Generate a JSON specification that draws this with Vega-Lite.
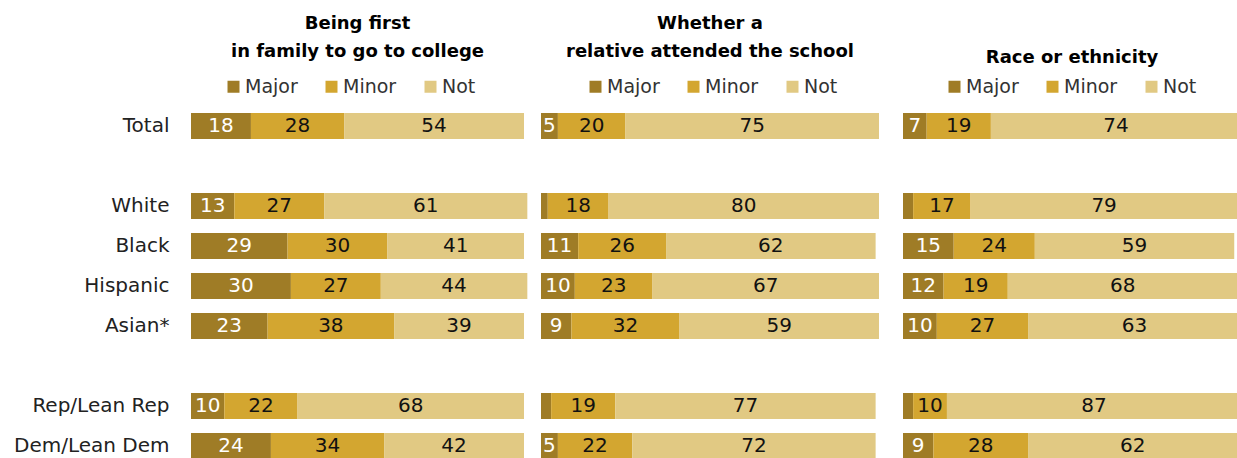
{
  "$schema": "https://vega.github.io/schema/vega-lite/v6.json",
  "padding": {"left": 13, "top": 15, "right": 0, "bottom": 0},
  "background": "white",
  "datasets": {
    "d": [
      {"q": "first", "group": "Total", "resp": "Major", "value": 18},
      {"q": "first", "group": "Total", "resp": "Minor", "value": 28},
      {"q": "first", "group": "Total", "resp": "Not", "value": 54},
      {"q": "first", "group": "White\u00a0", "resp": "Major", "value": 13},
      {"q": "first", "group": "White\u00a0", "resp": "Minor", "value": 27},
      {"q": "first", "group": "White\u00a0", "resp": "Not", "value": 61},
      {"q": "first", "group": "Black", "resp": "Major", "value": 29},
      {"q": "first", "group": "Black", "resp": "Minor", "value": 30},
      {"q": "first", "group": "Black", "resp": "Not", "value": 41},
      {"q": "first", "group": "Hispanic", "resp": "Major", "value": 30},
      {"q": "first", "group": "Hispanic", "resp": "Minor", "value": 27},
      {"q": "first", "group": "Hispanic", "resp": "Not", "value": 44},
      {"q": "first", "group": "Asian*", "resp": "Major", "value": 23},
      {"q": "first", "group": "Asian*", "resp": "Minor", "value": 38},
      {"q": "first", "group": "Asian*", "resp": "Not", "value": 39},
      {"q": "first", "group": "Rep/Lean Rep", "resp": "Major", "value": 10},
      {"q": "first", "group": "Rep/Lean Rep", "resp": "Minor", "value": 22},
      {"q": "first", "group": "Rep/Lean Rep", "resp": "Not", "value": 68},
      {"q": "first", "group": "Dem/Lean Dem", "resp": "Major", "value": 24},
      {"q": "first", "group": "Dem/Lean Dem", "resp": "Minor", "value": 34},
      {"q": "first", "group": "Dem/Lean Dem", "resp": "Not", "value": 42},

      {"q": "relative", "group": "Total", "resp": "Major", "value": 5},
      {"q": "relative", "group": "Total", "resp": "Minor", "value": 20},
      {"q": "relative", "group": "Total", "resp": "Not", "value": 75},
      {"q": "relative", "group": "White\u00a0", "resp": "Major", "value": 2},
      {"q": "relative", "group": "White\u00a0", "resp": "Minor", "value": 18},
      {"q": "relative", "group": "White\u00a0", "resp": "Not", "value": 80},
      {"q": "relative", "group": "Black", "resp": "Major", "value": 11},
      {"q": "relative", "group": "Black", "resp": "Minor", "value": 26},
      {"q": "relative", "group": "Black", "resp": "Not", "value": 62},
      {"q": "relative", "group": "Hispanic", "resp": "Major", "value": 10},
      {"q": "relative", "group": "Hispanic", "resp": "Minor", "value": 23},
      {"q": "relative", "group": "Hispanic", "resp": "Not", "value": 67},
      {"q": "relative", "group": "Asian*", "resp": "Major", "value": 9},
      {"q": "relative", "group": "Asian*", "resp": "Minor", "value": 32},
      {"q": "relative", "group": "Asian*", "resp": "Not", "value": 59},
      {"q": "relative", "group": "Rep/Lean Rep", "resp": "Major", "value": 3},
      {"q": "relative", "group": "Rep/Lean Rep", "resp": "Minor", "value": 19},
      {"q": "relative", "group": "Rep/Lean Rep", "resp": "Not", "value": 77},
      {"q": "relative", "group": "Dem/Lean Dem", "resp": "Major", "value": 5},
      {"q": "relative", "group": "Dem/Lean Dem", "resp": "Minor", "value": 22},
      {"q": "relative", "group": "Dem/Lean Dem", "resp": "Not", "value": 72},

      {"q": "race", "group": "Total", "resp": "Major", "value": 7},
      {"q": "race", "group": "Total", "resp": "Minor", "value": 19},
      {"q": "race", "group": "Total", "resp": "Not", "value": 74},
      {"q": "race", "group": "White\u00a0", "resp": "Major", "value": 3},
      {"q": "race", "group": "White\u00a0", "resp": "Minor", "value": 17},
      {"q": "race", "group": "White\u00a0", "resp": "Not", "value": 79},
      {"q": "race", "group": "Black", "resp": "Major", "value": 15},
      {"q": "race", "group": "Black", "resp": "Minor", "value": 24},
      {"q": "race", "group": "Black", "resp": "Not", "value": 59},
      {"q": "race", "group": "Hispanic", "resp": "Major", "value": 12},
      {"q": "race", "group": "Hispanic", "resp": "Minor", "value": 19},
      {"q": "race", "group": "Hispanic", "resp": "Not", "value": 68},
      {"q": "race", "group": "Asian*", "resp": "Major", "value": 10},
      {"q": "race", "group": "Asian*", "resp": "Minor", "value": 27},
      {"q": "race", "group": "Asian*", "resp": "Not", "value": 63},
      {"q": "race", "group": "Rep/Lean Rep", "resp": "Major", "value": 3},
      {"q": "race", "group": "Rep/Lean Rep", "resp": "Minor", "value": 10},
      {"q": "race", "group": "Rep/Lean Rep", "resp": "Not", "value": 87},
      {"q": "race", "group": "Dem/Lean Dem", "resp": "Major", "value": 9},
      {"q": "race", "group": "Dem/Lean Dem", "resp": "Minor", "value": 28},
      {"q": "race", "group": "Dem/Lean Dem", "resp": "Not", "value": 62}
    ]
  },
  "data": {"name": "d"},
  "spacing": 22,
  "resolve": {"scale": {"color": "independent", "y": "independent", "x": "independent"}},
  "hconcat": [
    {
      "spacing": 10,
      "resolve": {"scale": {"color": "independent", "y": "independent", "x": "independent"}},
      "hconcat": [
        {
          "width": 333,
          "height": 360,
          "title": {"text": ["Being first", "in family to go to college"]},
          "transform": [{"filter": "datum.q == 'first'"}],
          "encoding": {
            "y": {
              "field": "group", "type": "nominal",
              "scale": {"domain": ["Total", " ", "White\u00a0", "Black", "Hispanic", "Asian*", "  ", "Rep/Lean Rep", "Dem/Lean Dem"], "paddingInner": 0.35, "paddingOuter": 0.175},
              "axis": {"title": null, "domain": false, "ticks": false, "labelFont": "DejaVu Sans", "labelFontSize": 20, "labelColor": "#222222", "labelPadding": 22, "labelLimit": 300}
            }
          },
          "layer": [
            {
              "mark": {"type": "bar"},
              "encoding": {
                "x": {"field": "value", "type": "quantitative", "stack": "zero", "scale": {"domain": [0, 100], "nice": false}, "axis": null},
                "color": {
                  "field": "resp", "type": "nominal",
                  "scale": {"domain": ["Major", "Minor", "Not"], "range": ["#9f7c26", "#d3a630", "#e1c983"]},
                  "legend": {"orient": "none", "legendX": 33, "legendY": -29, "direction": "horizontal", "title": null, "symbolType": "square", "symbolSize": 144, "symbolStrokeWidth": 0, "labelFont": "DejaVu Sans", "labelFontSize": 19, "labelColor": "#333333", "labelOffset": 2, "columnPadding": 24}
                },
                "order": {"field": "resp", "sort": "ascending"}
              }
            },
            {
              "mark": {"type": "text", "font": "DejaVu Sans", "fontSize": 20, "baseline": "middle", "align": "center"},
              "encoding": {
                "x": {"field": "value", "type": "quantitative", "stack": "zero", "bandPosition": 0.5},
                "detail": {"field": "resp"},
                "order": {"field": "resp", "sort": "ascending"},
                "text": {"field": "value", "type": "quantitative"},
                "color": {"condition": {"test": "datum.resp == 'Major'", "value": "white"}, "value": "#111111"},
                "opacity": {"condition": {"test": "datum.value < 5", "value": 0}, "value": 1}
              }
            }
          ]
        },
        {
          "width": 338,
          "height": 360,
          "title": {"text": ["Whether a", "relative attended the school"]},
          "transform": [{"filter": "datum.q == 'relative'"}],
          "encoding": {
            "y": {
              "field": "group", "type": "nominal",
              "scale": {"domain": ["Total", " ", "White\u00a0", "Black", "Hispanic", "Asian*", "  ", "Rep/Lean Rep", "Dem/Lean Dem"], "paddingInner": 0.35, "paddingOuter": 0.175},
              "axis": null
            }
          },
          "layer": [
            {
              "mark": {"type": "bar"},
              "encoding": {
                "x": {"field": "value", "type": "quantitative", "stack": "zero", "scale": {"domain": [0, 100], "nice": false}, "axis": null},
                "color": {
                  "field": "resp", "type": "nominal",
                  "scale": {"domain": ["Major", "Minor", "Not"], "range": ["#9f7c26", "#d3a630", "#e1c983"]},
                  "legend": {"orient": "none", "legendX": 45, "legendY": -29, "direction": "horizontal", "title": null, "symbolType": "square", "symbolSize": 144, "symbolStrokeWidth": 0, "labelFont": "DejaVu Sans", "labelFontSize": 19, "labelColor": "#333333", "labelOffset": 2, "columnPadding": 24}
                },
                "order": {"field": "resp", "sort": "ascending"}
              }
            },
            {
              "mark": {"type": "text", "font": "DejaVu Sans", "fontSize": 20, "baseline": "middle", "align": "center"},
              "encoding": {
                "x": {"field": "value", "type": "quantitative", "stack": "zero", "bandPosition": 0.5},
                "detail": {"field": "resp"},
                "order": {"field": "resp", "sort": "ascending"},
                "text": {"field": "value", "type": "quantitative"},
                "color": {"condition": {"test": "datum.resp == 'Major'", "value": "white"}, "value": "#111111"},
                "opacity": {"condition": {"test": "datum.value < 5", "value": 0}, "value": 1}
              }
            }
          ]
        }
      ]
    },
    {
      "width": 338,
      "height": 360,
      "title": {"text": "Race or ethnicity", "dy": 6},
      "transform": [{"filter": "datum.q == 'race'"}],
      "encoding": {
        "y": {
          "field": "group", "type": "nominal",
          "scale": {"domain": ["Total", " ", "White\u00a0", "Black", "Hispanic", "Asian*", "  ", "Rep/Lean Rep", "Dem/Lean Dem"], "paddingInner": 0.35, "paddingOuter": 0.175},
          "axis": null
        }
      },
      "layer": [
        {
          "mark": {"type": "bar"},
          "encoding": {
            "x": {"field": "value", "type": "quantitative", "stack": "zero", "scale": {"domain": [0, 100], "nice": false}, "axis": null},
            "color": {
              "field": "resp", "type": "nominal",
              "scale": {"domain": ["Major", "Minor", "Not"], "range": ["#9f7c26", "#d3a630", "#e1c983"]},
              "legend": {"orient": "none", "legendX": 42, "legendY": -29, "direction": "horizontal", "title": null, "symbolType": "square", "symbolSize": 144, "symbolStrokeWidth": 0, "labelFont": "DejaVu Sans", "labelFontSize": 19, "labelColor": "#333333", "labelOffset": 2, "columnPadding": 24}
            },
            "order": {"field": "resp", "sort": "ascending"}
          }
        },
        {
          "mark": {"type": "text", "font": "DejaVu Sans", "fontSize": 20, "baseline": "middle", "align": "center"},
          "encoding": {
            "x": {"field": "value", "type": "quantitative", "stack": "zero", "bandPosition": 0.5},
            "detail": {"field": "resp"},
            "order": {"field": "resp", "sort": "ascending"},
            "text": {"field": "value", "type": "quantitative"},
            "color": {"condition": {"test": "datum.resp == 'Major'", "value": "white"}, "value": "#111111"},
            "opacity": {"condition": {"test": "datum.value < 5", "value": 0}, "value": 1}
          }
        }
      ]
    }
  ],
  "config": {
    "view": {"stroke": null},
    "font": "DejaVu Sans",
    "title": {"font": "DejaVu Sans", "fontWeight": "bold", "fontSize": 18, "lineHeight": 28, "color": "#000000", "anchor": "middle", "frame": "group", "offset": 16}
  }
}
